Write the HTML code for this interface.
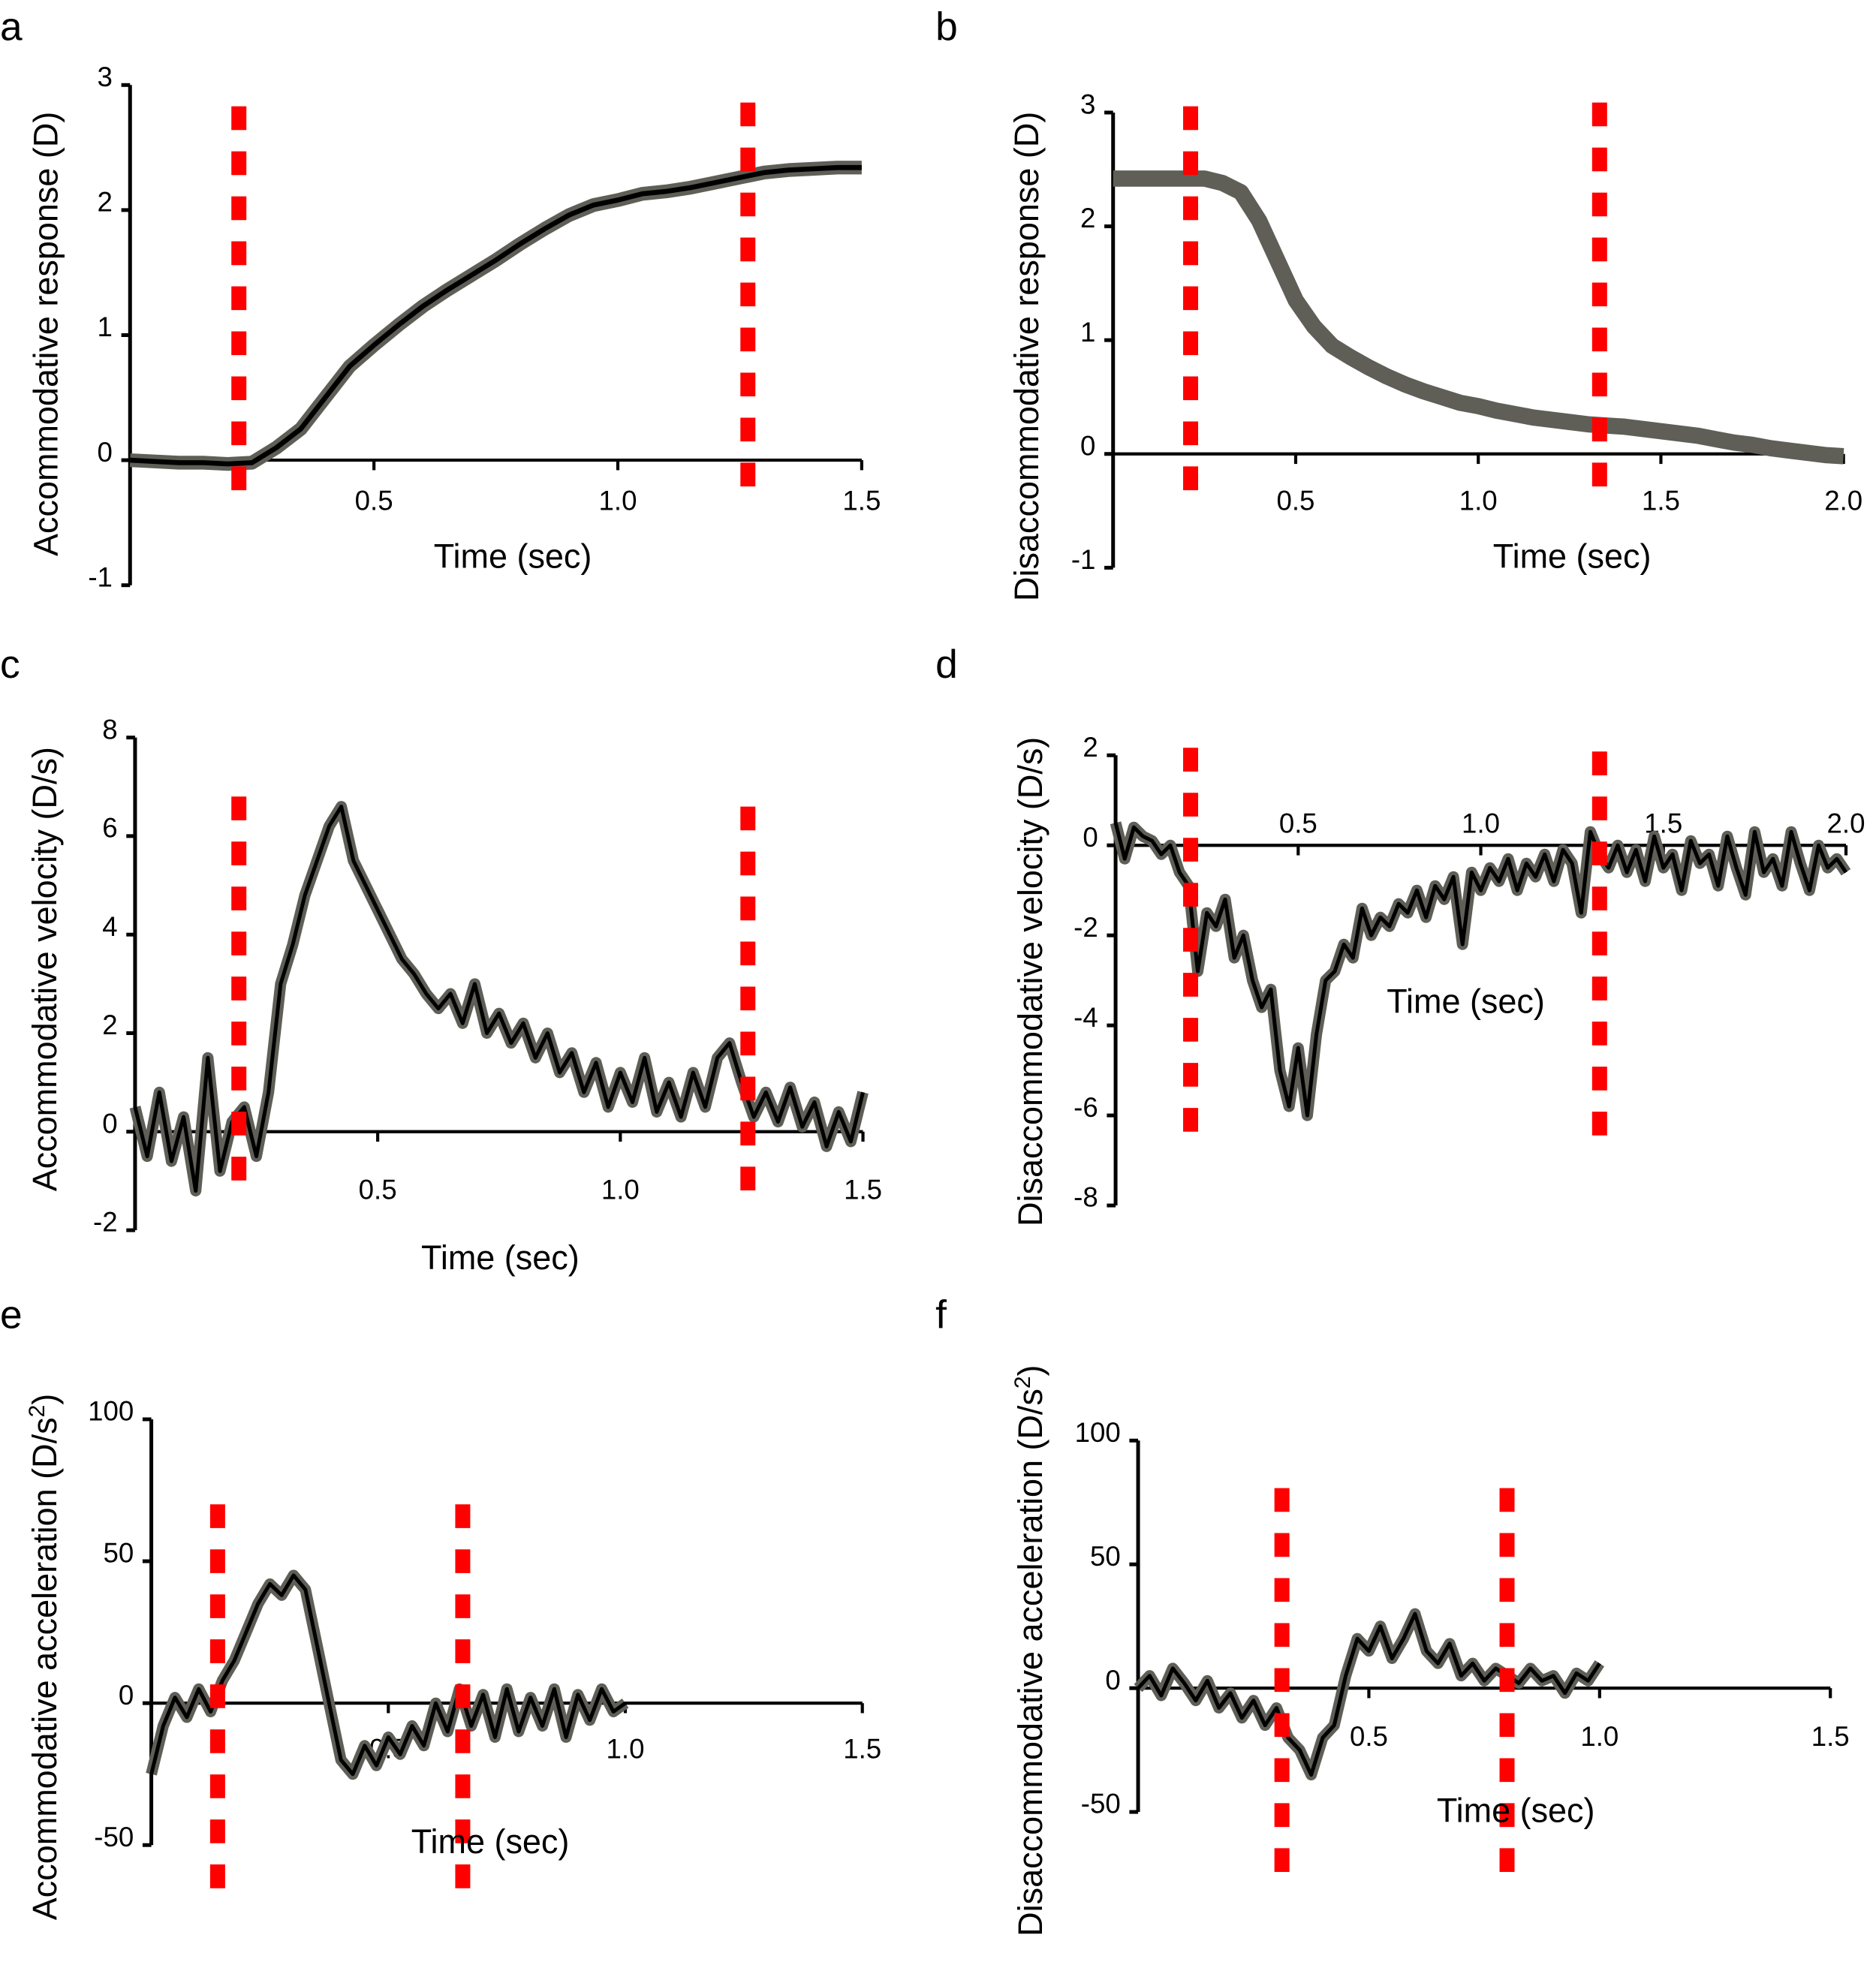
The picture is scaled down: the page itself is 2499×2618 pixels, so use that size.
<!DOCTYPE html>
<html><head><meta charset="utf-8"><style>
html,body{margin:0;padding:0;background:#fff}
svg{display:block}
text{font-family:"Liberation Sans",sans-serif;fill:#000}
</style></head><body>
<svg id="fig" width="2499" height="2618" viewBox="0 0 1500 1571.4" preserveAspectRatio="none" xmlns="http://www.w3.org/2000/svg"></svg>
<script>
// ---- data arrays ----
const aStep = 0.05;
const aValues = [0,-0.01,-0.02,-0.02,-0.03,-0.02,0.1,0.25,0.5,0.75,0.92,1.08,1.23,1.36,1.48,1.6,1.73,1.85,1.96,2.04,2.08,2.13,2.15,2.18,2.22,2.26,2.3,2.32,2.33,2.34,2.34];
const bStep = 0.05;
const bValues = [2.42,2.42,2.42,2.42,2.42,2.42,2.38,2.3,2.05,1.7,1.35,1.12,0.95,0.85,0.76,0.68,0.61,0.55,0.5,0.45,0.42,0.38,0.35,0.32,0.3,0.28,0.26,0.25,0.24,0.22,0.2,0.18,0.16,0.13,0.1,0.08,0.05,0.03,0.01,-0.01,-0.02];
const cStep = 0.025;
const cValues = [0.5,-0.5,0.8,-0.6,0.3,-1.2,1.5,-0.8,0.2,0.5,-0.5,0.8,3.0,3.8,4.8,5.5,6.2,6.6,5.5,5.0,4.5,4.0,3.5,3.2,2.8,2.5,2.8,2.2,3.0,2.0,2.4,1.8,2.2,1.5,2.0,1.2,1.6,0.8,1.4,0.5,1.2,0.6,1.5,0.4,1.0,0.3,1.2,0.5,1.5,1.8,1.0,0.3,0.8,0.2,0.9,0.1,0.6,-0.3,0.4,-0.2,0.8];
const dStep = 0.025;
const dValues = [0.5,-0.3,0.4,0.2,0.1,-0.2,0,-0.6,-0.9,-2.8,-1.5,-1.8,-1.2,-2.5,-2.0,-3.0,-3.6,-3.2,-5.0,-5.8,-4.5,-6.0,-4.2,-3.0,-2.8,-2.2,-2.5,-1.4,-2.0,-1.6,-1.8,-1.3,-1.5,-1.0,-1.6,-0.9,-1.2,-0.7,-2.2,-0.6,-1.0,-0.5,-0.8,-0.3,-1.0,-0.4,-0.7,-0.2,-0.8,-0.1,-0.4,-1.5,0.3,-0.2,-0.5,0.0,-0.6,-0.1,-0.8,0.2,-0.5,-0.2,-1.0,0.1,-0.4,-0.2,-0.9,0.2,-0.5,-1.1,0.3,-0.6,-0.3,-0.9,0.3,-0.4,-1.0,0.0,-0.5,-0.3,-0.6];
const eStep = 0.025;
const eValues = [-25,-8,2,-5,5,-3,8,15,25,35,42,38,45,40,20,0,-20,-25,-15,-22,-12,-18,-8,-15,0,-10,5,-8,3,-12,5,-10,2,-8,5,-12,3,-6,5,-3,0];
const fStep = 0.025;
const fValues = [0,5,-3,8,2,-5,3,-8,-2,-12,-5,-15,-8,-20,-25,-35,-20,-15,5,20,15,25,12,20,30,15,10,18,5,10,3,8,5,2,8,3,5,-2,6,3,10];
const aYTicks=[3,2,1,0,-1], bYTicks=[3,2,1,0,-1], cYTicks=[8,6,4,2,0,-2], dYTicks=[2,0,-2,-4,-6,-8], eYTicks=[100,50,0,-50], fYTicks=[100,50,0,-50];
const aXTicks=["0.5","1.0","1.5"], bXTicks=["0.5","1.0","1.5","2.0"], cXTicks=["0.5","1.0","1.5"], dXTicks=["0.5","1.0","1.5","2.0"], eXTicks=["0.5","1.0","1.5"], fXTicks=["0.5","1.0","1.5"];

const NS="http://www.w3.org/2000/svg";
const svg=document.getElementById('fig');
function mk(tag,attrs,parent){const e=document.createElementNS(NS,tag);for(const k in attrs)e.setAttribute(k,attrs[k]);(parent||svg).appendChild(e);return e;}

function panel(p){
  const g=mk('g',{});
  
  
  const sx=t=>p.x0+t*p.pxPerSec;
  const sy=v=>p.yZero-(v)*p.pxPerUnit;
  const yMin=p.yTicks[p.yTicks.length-1], yMax=p.yTicks[0];
  const L=mk('text',{x:p.lx,y:p.ly,'font-size':32},g);L.textContent=p.id;
  
  
  const ya=mk('line',{x1:p.x0,x2:p.x0,y1:sy(yMax),y2:sy(yMin),stroke:'#000','stroke-width':3},g);
  
  
  p.yTicks.forEach(v=>{
    mk('line',{x1:p.x0-7,x2:p.x0,y1:sy(v),y2:sy(v),stroke:'#000','stroke-width':3},g);
    const t=mk('text',{x:p.x0-14,y:sy(v)+1,'font-size':22,'text-anchor':'end'},g);t.textContent=v;
    
    
  });
  const xEnd=sx(p.xMax);
  const xa=mk('line',{x1:p.x0,x2:xEnd,y1:sy(0),y2:sy(0),stroke:'#000','stroke-width':2.5},g);
  
  
  p.xTicks.forEach(s=>{
    const tv=parseFloat(s);
    mk('line',{x1:sx(tv),x2:sx(tv),y1:sy(0),y2:sy(0)+8,stroke:'#000','stroke-width':2.5},g);
    const t=mk('text',{x:sx(tv),y:p.tickLabelY,'font-size':22,'text-anchor':'middle'},g);t.textContent=s;
    
    
  });
  const pts=p.values.map((v,i)=>sx(i*p.step).toFixed(1)+','+sy(v).toFixed(1)).join(' ');
  const gl=mk('polyline',{points:pts,fill:'none',stroke:'#5f5f58','stroke-width':p.grayW,'stroke-linejoin':'round'},g);
  
  
  if(p.blackW>0){
    const bl=mk('polyline',{points:pts,fill:'none',stroke:'#000','stroke-width':p.blackW,'stroke-linejoin':'round'},g);
    
    
  }
  p.reds.forEach(r=>{
    const rl=mk('line',{x1:r[0],x2:r[0],y1:r[1],y2:r[2],stroke:'#f00','stroke-width':12,'stroke-dasharray':'19 17'},g);
    
    
  });
  const xt=mk('text',{x:p.xtx,y:p.xty,'font-size':27,'text-anchor':'middle'},g);xt.textContent='Time (sec)';
  
  
  const yt=mk('text',{x:0,y:0,'font-size':27,'text-anchor':'middle',transform:`translate(${p.ytx},${p.yty}) rotate(-90)`},g);
  yt.innerHTML=p.ytitle;
  
  
}

panel({id:'a',lx:0,ly:32,x0:104,pxPerSec:390,yZero:368,pxPerUnit:100,yTicks:aYTicks,xTicks:aXTicks,xMax:1.5,tickLabelY:408,values:aValues,step:aStep,grayW:11,blackW:4,reds:[[191,85,400],[598,82,400]],xtx:410,xty:454,ytx:46,yty:267,ytitle:'Accommodative response (D)'});
panel({id:'b',lx:748,ly:32,x0:890,pxPerSec:292,yZero:363,pxPerUnit:91,yTicks:bYTicks,xTicks:bXTicks,xMax:2.0,tickLabelY:408,values:bValues,step:bStep,grayW:13,blackW:0,reds:[[952,85,402],[1279,82,400]],xtx:1257,xty:454,ytx:830,yty:285,ytitle:'Disaccommodative response (D)'});
panel({id:'c',lx:0,ly:542,x0:108,pxPerSec:388,yZero:905,pxPerUnit:39.4,yTicks:cYTicks,xTicks:cXTicks,xMax:1.5,tickLabelY:959,values:cValues,step:cStep,grayW:9,blackW:3,reds:[[191,637,952],[598,645,960]],xtx:400,xty:1015,ytx:45,yty:775,ytitle:'Accommodative velocity (D/s)'});
panel({id:'d',lx:748,ly:542,x0:892,pxPerSec:292,yZero:676,pxPerUnit:36,yTicks:dYTicks,xTicks:dXTicks,xMax:2.0,tickLabelY:666,values:dValues,step:dStep,grayW:9,blackW:3,reds:[[952,598,914],[1279,601,917]],xtx:1172,xty:810,ytx:833,yty:785,ytitle:'Disaccommodative velocity (D/s)'});
panel({id:'e',lx:0,ly:1062,x0:121,pxPerSec:379,yZero:1362,pxPerUnit:2.27,yTicks:eYTicks,xTicks:eXTicks,xMax:1.5,tickLabelY:1406,values:eValues,step:eStep,grayW:9,blackW:3,reds:[[174,1203,1522],[370,1203,1522]],xtx:392,xty:1482,ytx:45,yty:1325,ytitle:'Accommodative acceleration (D/s<tspan baseline-shift="super" font-size="18">2</tspan>)'});
panel({id:'f',lx:748,ly:1062,x0:910,pxPerSec:369,yZero:1350,pxPerUnit:1.98,yTicks:fYTicks,xTicks:fXTicks,xMax:1.5,tickLabelY:1396,values:fValues,step:fStep,grayW:9,blackW:3,reds:[[1025,1190,1507],[1205,1190,1507]],xtx:1212,xty:1457,ytx:833,yty:1320,ytitle:'Disaccommodative acceleration (D/s<tspan baseline-shift="super" font-size="18">2</tspan>)'});
</script>
</body></html>
